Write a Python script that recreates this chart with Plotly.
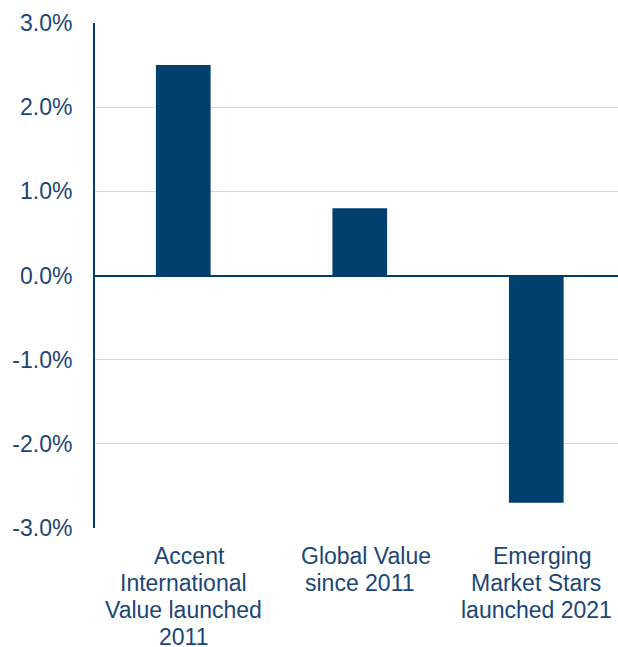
import plotly.graph_objects as go

# Category labels, one list of text lines per bar
category_lines = [
    ["Accent", "International", "Value launched", "2011"],
    ["Global Value", "since 2011"],
    ["Emerging", "Market Stars", "launched 2021"],
]
values = [0.025, 0.008, -0.027]
y_ticks = [-0.03, -0.02, -0.01, 0.0, 0.01, 0.02, 0.03]
y_tick_labels = [f"{v * 100:.1f}%" for v in y_ticks]

navy = "#00406f"
text_navy = "#1b4674"
font_family = "Liberation Sans, Arial, sans-serif"
label_size = 23
line_gap = 27.3        # spacing between label lines, px
first_line_drop = 27.5  # distance from axis bottom to first line centre, px
first_line_indent = 6   # first label line sits slightly right of centre

x_pos = list(range(len(category_lines)))

fig = go.Figure(
    go.Bar(
        x=x_pos,
        y=values,
        marker=dict(color=navy, line=dict(width=0)),
        width=0.31,
    )
)

annotations = []
for xi, lines in zip(x_pos, category_lines):
    for li, line in enumerate(lines):
        annotations.append(
            dict(
                x=xi,
                xref="x",
                y=0,
                yref="paper",
                yanchor="middle",
                xanchor="center",
                xshift=first_line_indent if li == 0 else 0,
                yshift=-(first_line_drop + li * line_gap),
                text=line,
                showarrow=False,
                font=dict(family=font_family, size=label_size, color=text_navy),
            )
        )

fig.update_layout(
    width=618,
    height=647,
    margin=dict(l=95, r=0, t=23, b=119),
    plot_bgcolor="white",
    paper_bgcolor="white",
    showlegend=False,
    font=dict(family=font_family, size=label_size, color=text_navy),
    annotations=annotations,
)

fig.update_xaxes(
    range=[-0.5, 2.463],
    showticklabels=False,
    showgrid=False,
    showline=False,
    zeroline=False,
    ticks="",
    automargin=False,
)

fig.update_yaxes(
    range=[-0.03, 0.03],
    tickmode="array",
    tickvals=y_ticks,
    ticktext=y_tick_labels,
    showgrid=True,
    gridcolor="#d9d9d9",
    gridwidth=1,
    zeroline=True,
    zerolinecolor=navy,
    zerolinewidth=2,
    showline=True,
    linecolor=navy,
    linewidth=2,
    ticks="outside",
    ticklen=16,
    tickcolor="rgba(0,0,0,0)",
    automargin=False,
)

fig.write_html("out.html")
